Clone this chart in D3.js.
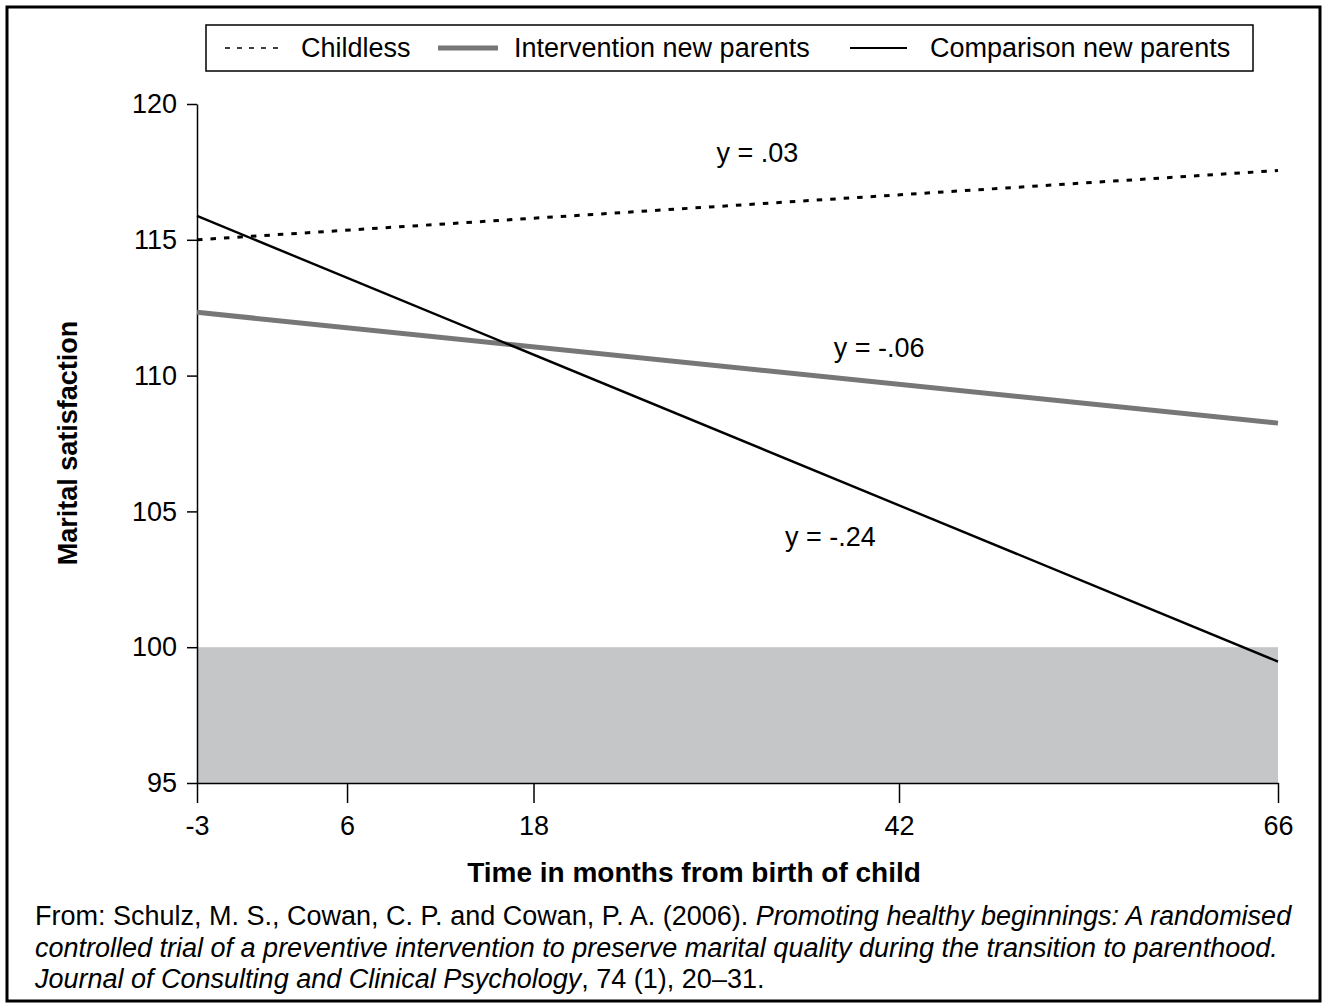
<!DOCTYPE html>
<html>
<head>
<meta charset="utf-8">
<script src="https://cdn.jsdelivr.net/npm/d3@7"></script>
<style>
  body { margin: 0; background: #fff; }
  text { font-family: "Liberation Sans", Arial, sans-serif; fill: #000; }
</style>
</head>
<body>
<div id="chart"></div>
<script>
// Data
const months = [-3, 66];
const tickMonths = [-3, 6, 18, 42, 66];
const tickValues = [95, 100, 105, 110, 115, 120];
const childless = [115.0, 117.55];
const intervention = [112.33, 108.25];
const comparison = [115.88, 99.47];
const legendLabels = ['Childless', 'Intervention new parents', 'Comparison new parents'];
const slopeLabels = ['y = .03', 'y = -.06', 'y = -.24'];
const slopeMonths = [32.7, 40.7, 37.5];
const slopeValues = [118.2, 111.05, 104.06];
const shadedRange = [95, 100];

const width = 1322,
  height = 1003;
const plotLeft = 197,
  plotRight = 1278,
  plotTop = 104,
  plotBottom = 783;
const fs = '27px';

const svg = d3
  .select('#chart')
  .append('svg')
  .attr('width', width)
  .attr('height', height);

// outer frame
svg
  .append('rect')
  .attr('x', 7)
  .attr('y', 7)
  .attr('width', 1313)
  .attr('height', 994)
  .attr('fill', 'none')
  .attr('stroke', '#000')
  .attr('stroke-width', 3);

// x axis in the original is not evenly spaced
const xStops = [0, 0.1388, 0.3113, 0.6494, 1];
const x = d3
  .scaleLinear()
  .domain(tickMonths)
  .range(xStops.map((f) => plotLeft + f * (plotRight - plotLeft)));
const y = d3.scaleLinear().domain([95, 120]).range([plotBottom, plotTop]);

// shaded band under 100
svg
  .append('rect')
  .attr('x', x(months[0]))
  .attr('y', y(shadedRange[1]))
  .attr('width', x(months[1]) - x(months[0]))
  .attr('height', y(shadedRange[0]) - y(shadedRange[1]))
  .attr('fill', '#c5c6c8');

const yAxis = svg
  .append('g')
  .attr('transform', `translate(${plotLeft},0)`)
  .call(d3.axisLeft(y).tickValues(tickValues).tickSize(10).tickSizeOuter(0).tickPadding(10));

const xAxis = svg
  .append('g')
  .attr('transform', `translate(0,${plotBottom})`)
  .call(
    d3
      .axisBottom(x)
      .tickValues(tickMonths)
      .tickFormat(d3.format('d'))
      .tickSize(20)
      .tickSizeOuter(0)
      .tickPadding(13)
  );

[yAxis, xAxis].forEach((a) => {
  a.attr('font-family', null).attr('font-size', null);
  a.selectAll('text').style('font-size', fs).attr('fill', '#000');
  a.selectAll('path, line').attr('stroke', '#000').attr('stroke-width', 1.5);
});
xAxis.selectAll('text').text((d) => (d < 0 ? '-' + Math.abs(d) : d));

const line = d3
  .line()
  .x((d, i) => x(months[i]))
  .y((d) => y(d));

svg
  .append('path')
  .datum(childless)
  .attr('d', line)
  .attr('fill', 'none')
  .attr('stroke', '#000')
  .attr('stroke-width', 3)
  .attr('stroke-dasharray', '5.5,8');

svg
  .append('path')
  .datum(intervention)
  .attr('d', line)
  .attr('fill', 'none')
  .attr('stroke', '#777')
  .attr('stroke-width', 5);

svg
  .append('path')
  .datum(comparison)
  .attr('d', line)
  .attr('fill', 'none')
  .attr('stroke', '#000')
  .attr('stroke-width', 2.4);

// slope notes
svg
  .selectAll('text.slope')
  .data(slopeLabels)
  .join('text')
  .attr('class', 'slope')
  .attr('x', (d, i) => x(slopeMonths[i]))
  .attr('y', (d, i) => y(slopeValues[i]))
  .attr('dy', '0.35em')
  .attr('text-anchor', 'middle')
  .style('font-size', fs)
  .text((d) => d);

// axis titles
svg
  .append('text')
  .attr('transform', `translate(68,443) rotate(-90)`)
  .attr('text-anchor', 'middle')
  .attr('dy', '0.35em')
  .style('font-size', '27px')
  .style('font-weight', 'bold')
  .text('Marital satisfaction');

svg
  .append('text')
  .attr('x', 694)
  .attr('y', 872)
  .attr('dy', '0.35em')
  .attr('text-anchor', 'middle')
  .style('font-size', '28px')
  .style('font-weight', 'bold')
  .text('Time in months from birth of child');

// legend
const legend = svg.append('g');
legend
  .append('rect')
  .attr('x', 206)
  .attr('y', 25)
  .attr('width', 1047)
  .attr('height', 46)
  .attr('fill', '#fff')
  .attr('stroke', '#000')
  .attr('stroke-width', 1.5);

const legendX = [225, 438, 850];
const legendStyle = [
  { stroke: '#000', w: 1.5, dash: '5,7' },
  { stroke: '#777', w: 5, dash: null },
  { stroke: '#000', w: 2, dash: null },
];
const items = legend
  .selectAll('g')
  .data(legendLabels)
  .join('g')
  .attr('transform', (d, i) => `translate(${legendX[i]},48)`);
items
  .append('line')
  .attr('x1', 0)
  .attr('x2', (d, i) => (i === 2 ? 57 : 60))
  .attr('stroke', (d, i) => legendStyle[i].stroke)
  .attr('stroke-width', (d, i) => legendStyle[i].w)
  .attr('stroke-dasharray', (d, i) => legendStyle[i].dash);
items
  .append('text')
  .attr('x', (d, i) => (i === 2 ? 80 : 76))
  .attr('dy', '0.35em')
  .style('font-size', fs)
  .text((d) => d);

// citation
const cite = svg.append('g').style('font-size', fs);
const citeLines = [
  [
    ['From: Schulz, M. S., Cowan, C. P. and Cowan, P. A. (2006). ', false],
    ['Promoting healthy beginnings: A randomised', true],
  ],
  [['controlled trial of a preventive intervention to preserve marital quality during the transition to parenthood.', true]],
  [
    ['Journal of Consulting and Clinical Psychology', true],
    [', 74 (1), 20–31.', false],
  ],
];
citeLines.forEach((parts, i) => {
  const t = cite
    .append('text')
    .attr('x', 35)
    .attr('y', 925 + i * 31.5);
  parts.forEach(([s, it]) => {
    t.append('tspan')
      .style('font-style', it ? 'italic' : 'normal')
      .text(s);
  });
});
</script>
</body>
</html>
